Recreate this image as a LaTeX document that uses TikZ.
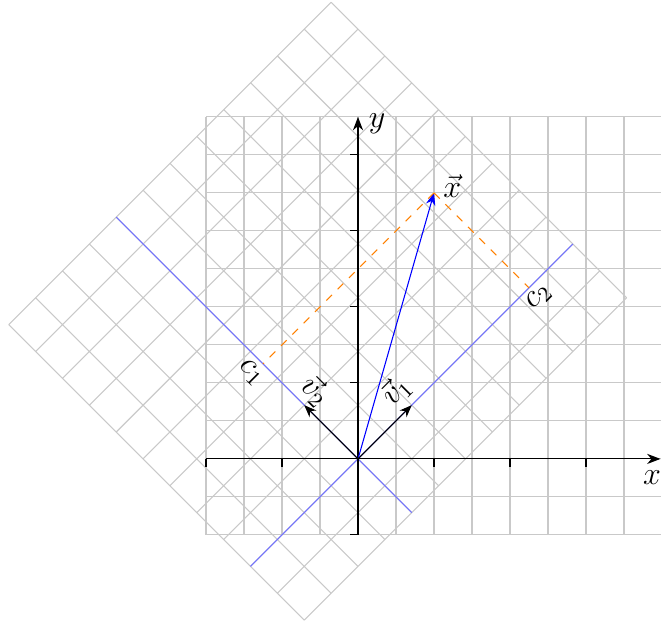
\documentclass[tikz,border=0pt]{standalone}
\usetikzlibrary{arrows.meta}
\begin{document}
\begin{tikzpicture}[x=1cm,y=1cm,
  gridline/.style={gray!42, line width=0.4pt},
  rotaxis/.style={blue!55, line width=0.4pt},
  axisline/.style={-{Stealth[length=5pt,width=3.8pt,inset=1.6pt]}, black, line width=0.4pt},
  vecarrow/.style={-{Stealth[length=4.6pt,width=3.6pt,inset=1.5pt]}, line width=0.4pt},
  projline/.style={orange, dashed, line width=0.4pt},
  lbl/.style={inner sep=1pt}]
\useasboundingbox (-4.711,-2.132) rectangle (3.987,6.039);
% straight grid
\draw[gridline] (-2,-1) grid[step=0.5] (4,4.5);
% rotated grid
\draw[gridline, rotate=45] (-2,-1) grid[step=0.5] (4,4.5);
% rotated axes
\coordinate (ra1) at (225:2);
\coordinate (ra2) at (45:4);
\coordinate (rb1) at (315:1);
\coordinate (rb2) at (135:4.5);
\draw[rotaxis] (ra1) -- (ra2);
\draw[rotaxis] (rb1) -- (rb2);
% axes
\coordinate (O) at (0,0);
\coordinate (xs) at (-2,0);
\coordinate (xe) at (3.98,0);
\coordinate (ys) at (0,-1);
\coordinate (ye) at (0,4.5);
\draw[axisline] (xs) -- (xe);
\draw[axisline] (ys) -- (ye);
\foreach \t in {-2,-1,1,2,3} \draw (\t,0) -- (\t,-0.1);
\foreach \t in {-1,1,2,3,4} \draw (0,\t) -- (-0.1,\t);
\node[lbl] (xl) at (3.87,-0.25) {\large $x$};
\node[lbl] (yl) at (0.25,4.41) {\large $y$};
% vectors
\coordinate (X) at (1,3.5);
\coordinate (V1) at (45:1);
\coordinate (V2) at (135:1);
\draw[vecarrow, blue] (O) -- (X);
\draw[vecarrow] (O) -- (V1);
\draw[vecarrow] (O) -- (V2);
\node[lbl] (xvl) at (1.24,3.59) {\large $\vec{x}$};
\node[lbl, rotate=45] (v1l) at (0.5,0.9) {\large $\vec{v}_1$};
\node[lbl, rotate=-45] (v2l) at (-0.56,0.89) {\large $\vec{v}_2$};
% projections
\coordinate (C1) at (-1.25,1.25);
\coordinate (C2) at (2.25,2.25);
\draw[projline] (X) -- (C1);
\draw[projline] (X) -- (C2);
\node[lbl, rotate=-45] (c1l) at (-1.41,1.13) {\large $c_1$};
\node[lbl, rotate=45] (c2l) at (2.38,2.13) {\large $c_2$};
\end{tikzpicture}
\end{document}
